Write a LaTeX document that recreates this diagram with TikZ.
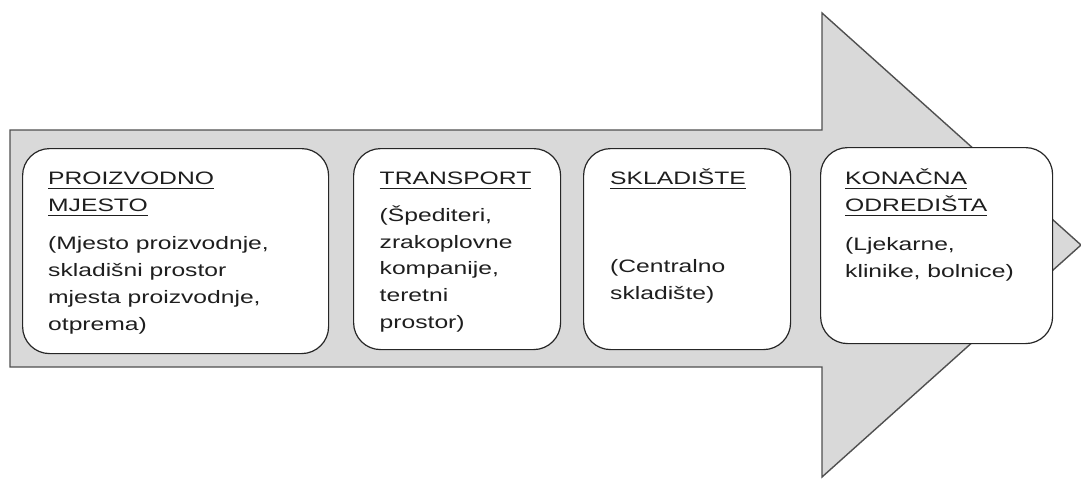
\documentclass[tikz,border=0pt]{standalone}
\usepackage{fontspec}
\setmainfont{Liberation Sans}[FakeStretch=1.37]
\definecolor{arrowfill}{HTML}{D9D9D9}
\definecolor{arrowline}{HTML}{505050}
\definecolor{boxline}{HTML}{262626}
\definecolor{txt}{HTML}{1E1E1E}
\newcommand{\ulx}[1]{\setbox0\hbox{#1}\rlap{\rule[-4.8pt]{\wd0}{1.2pt}}\box0}
\begin{document}
\begin{tikzpicture}[x=1pt,y=-1pt,
  arrowshape/.style={draw=arrowline,fill=arrowfill,line width=1.4pt,line join=miter},
  card/.style={draw=boxline,fill=white,rounded corners=27pt,line width=1.2pt,anchor=north west,inner sep=0pt},
  ln/.style={anchor=base west,inner sep=0pt,font=\fontsize{18}{27}\selectfont,text=txt}]
\useasboundingbox (0,0) rectangle (1081,479);
% big arrow
\draw[arrowshape] (10,130) -- (822,130) -- (822,13) -- (1081,245) -- (822,477) -- (822,367) -- (10,367) -- cycle;
% boxes
\node[card,minimum width=306pt,minimum height=205pt] (b1) at (22,148) {};
\node[card,minimum width=207pt,minimum height=201pt] (b2) at (353,148) {};
\node[card,minimum width=207pt,minimum height=201pt] (b3) at (583,148) {};
\node[card,minimum width=232pt,minimum height=196pt] (b4) at (820,147) {};
% box 1
\node[ln] (t1a) at (48,184) {\ulx{PROIZVODNO}};
\node[ln] (t1b) at (48,211) {\ulx{MJESTO}};
\node[ln] (p1a) at (48,249) {(Mjesto proizvodnje,};
\node[ln] (p1b) at (48,276) {skladišni prostor};
\node[ln] (p1c) at (48,303) {mjesta proizvodnje,};
\node[ln] (p1d) at (48,330) {otprema)};
% box 2
\node[ln] (t2a) at (379.5,184) {\ulx{TRANSPORT}};
\node[ln] (p2a) at (379.5,221) {(Špediteri,};
\node[ln] (p2b) at (379.5,248) {zrakoplovne};
\node[ln] (p2c) at (379.5,274) {kompanije,};
\node[ln] (p2d) at (379.5,301) {teretni};
\node[ln] (p2e) at (379.5,328) {prostor)};
% box 3
\node[ln] (t3a) at (610,184) {\ulx{SKLADIŠTE}};
\node[ln] (p3a) at (610,272) {(Centralno};
\node[ln] (p3b) at (610,299) {skladište)};
% box 4
\node[ln] (t4a) at (845,184) {\ulx{KONAČNA}};
\node[ln] (t4b) at (845,211) {\ulx{ODREDIŠTA}};
\node[ln] (p4a) at (845,250) {(Ljekarne,};
\node[ln] (p4b) at (845,277) {klinike, bolnice)};
\end{tikzpicture}
\end{document}
